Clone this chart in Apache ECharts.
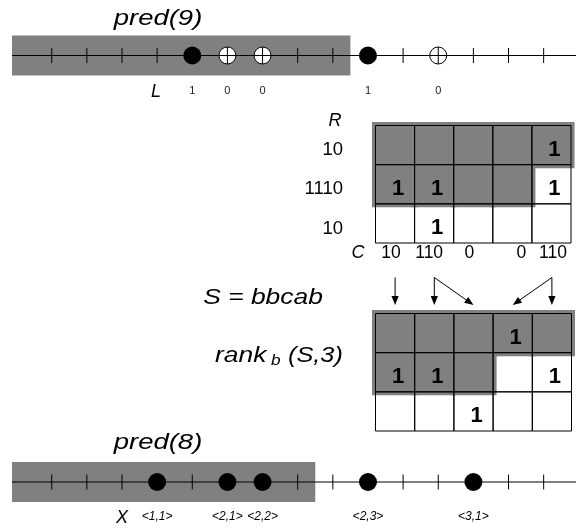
<!DOCTYPE html>
<html><head><meta charset="utf-8">
<script src="https://cdn.jsdelivr.net/npm/echarts@6/dist/echarts.min.js"></script>
<style>html,body{margin:0;padding:0;background:#fff}#c{width:576px;height:529px}</style>
</head><body><div id="c"></div>
<script>
// ---------- data ----------
const lineRange = [-0.13, 15.92];
const topTicks = [1, 2, 3, 4, 8, 9, 11, 13, 14, 15];
const topDots = [5, 10];
const topOpen = [6, 7, 12];
const topBitPos = [5, 6, 7, 10, 12];
const topBits = ['1', '0', '0', '1', '0'];
const topShadeEnd = 9.5;

const botTicks = [1, 2, 3, 5, 8, 9, 11, 12, 14, 15];
const botDots = [4, 6, 7, 10, 13];
const botPairs = ['<1,1>', '<2,1>', '<2,2>', '<2,3>', '<3,1>'];
const botShadeEnd = 8.5;

const colKeys = ['c0', 'c1', 'c2', 'c3', 'c4'];
const rowKeys = ['r0', 'r1', 'r2'];
const m1RowLabels = ['10', '1110', '10'];
const m1ColLabels = ['10', '110', '0', '0', '110'];
const m1Shade = [[1, 1, 1, 1, 1], [1, 1, 1, 1, 0], [0, 0, 0, 0, 0]];
const m1Ones  = [[0, 0, 0, 0, 1], [1, 1, 0, 0, 1], [0, 1, 0, 0, 0]];
const m2Shade = [[1, 1, 1, 1, 1], [1, 1, 1, 0, 0], [0, 0, 0, 0, 0]];
const m2Ones  = [[0, 0, 0, 1, 0], [1, 1, 0, 0, 1], [0, 0, 1, 0, 0]];
const arrowFrom = [0, 1, 1, 4, 4];
const arrowTo   = [0, 1, 2, 4, 3];

// ---------- style ----------
const GRAY = '#808080';
const FONT = '"Liberation Sans", Arial, Helvetica, sans-serif';
const colLabelNudge = [-4, -5, -4, 9, 1.5];   // horizontal typesetting nudges of the column labels (px)

function marksOf(ticks, dots, open) {
  const out = [];
  ticks.forEach(p => out.push([p, 0, 0]));
  dots.forEach(p => out.push([p, 0, 1]));
  (open || []).forEach(p => out.push([p, 0, 2]));
  return out;
}
function shadedCells(mat) {
  const out = [];
  mat.forEach((row, r) => row.forEach((v, c) => { if (v) out.push([c, r]); }));
  return out;
}
function allCells(ones) {
  const out = [];
  ones.forEach((row, r) => row.forEach((v, c) => out.push([c, r, v])));
  return out;
}

function shadeLineItem(params, api) {
  const cs = params.coordSys;
  const end = api.coord([api.value(0), 0]);
  return {
    type: 'group', children: [
      { type: 'rect', shape: { x: cs.x, y: cs.y, width: end[0] - cs.x, height: cs.height }, style: { fill: GRAY } },
      { type: 'line', shape: { x1: cs.x, y1: end[1], x2: cs.x + cs.width, y2: end[1] }, style: { stroke: '#000', lineWidth: 1 } }
    ]
  };
}
function markItem(params, api) {
  const p = api.coord([api.value(0), 0]);
  const kind = api.value(2);
  if (kind === 0) {
    return { type: 'line', shape: { x1: p[0], y1: p[1] - 7.5, x2: p[0], y2: p[1] + 7.5 }, style: { stroke: '#000', lineWidth: 1 } };
  }
  if (kind === 1) {
    return { type: 'circle', shape: { cx: p[0], cy: p[1], r: 9 }, style: { fill: '#000' } };
  }
  return {
    type: 'group', children: [
      { type: 'circle', shape: { cx: p[0], cy: p[1], r: 8.5 }, style: { fill: '#fff', stroke: '#000', lineWidth: 1 } },
      { type: 'line', shape: { x1: p[0], y1: p[1] - 8.5, x2: p[0], y2: p[1] + 8.5 }, style: { stroke: '#000', lineWidth: 1 } },
      { type: 'line', shape: { x1: p[0] - 8.5, y1: p[1], x2: p[0] + 8.5, y2: p[1] }, style: { stroke: '#000', lineWidth: 1 } }
    ]
  };
}
function labelItemFactory(texts, font, color) {
  return function (params, api) {
    const p = api.coord([api.value(0), 0]);
    return { type: 'text', x: p[0], y: p[1] + 35, style: { text: texts[params.dataIndex], font: font, fill: color, align: 'center', verticalAlign: 'middle' } };
  };
}
function shadeCellItem(params, api) {
  const c = api.coord([api.value(0), api.value(1)]);
  const s = api.size([1, 1]);
  const pad = 3.5;
  return { type: 'rect', shape: { x: c[0] - s[0] / 2 - pad, y: c[1] - s[1] / 2 - pad, width: s[0] + 2 * pad, height: s[1] + 2 * pad }, style: { fill: GRAY } };
}
function cellItem(params, api) {
  const c = api.coord([api.value(0), api.value(1)]);
  const s = api.size([1, 1]);
  const children = [{ type: 'rect', shape: { x: c[0] - s[0] / 2, y: c[1] - s[1] / 2, width: s[0], height: s[1] }, style: { fill: 'none', stroke: '#000', lineWidth: 1 } }];
  if (api.value(2)) {
    children.push({ type: 'text', x: c[0] + 3, y: c[1] + 5, style: { text: '1', font: 'bold 22px ' + FONT, fill: '#000', align: 'center', verticalAlign: 'middle' } });
  }
  return { type: 'group', children: children };
}
function rowLabelItem(params, api) {
  const y = api.coord([0, api.value(1)])[1];
  return { type: 'text', x: params.coordSys.x - 32.5, y: y + 5, style: { text: m1RowLabels[params.dataIndex], font: '18.5px ' + FONT, fill: '#000', align: 'right', verticalAlign: 'middle' } };
}
function colLabelItem(params, api) {
  const x = api.coord([api.value(0), 0])[0];
  const cs = params.coordSys;
  return { type: 'text', x: x + colLabelNudge[params.dataIndex], y: cs.y + cs.height + 10, style: { text: m1ColLabels[params.dataIndex], font: '17.5px ' + FONT, fill: '#000', align: 'center', verticalAlign: 'middle' } };
}
function arrowItem(params, api) {
  const top = params.coordSys.y;
  const x1 = api.coord([api.value(0), 0])[0];
  const x2 = api.coord([api.value(2), 0])[0];
  const y1 = top - 36, y2 = top - 8.5;
  const dx = x2 - x1, dy = y2 - y1, len = Math.sqrt(dx * dx + dy * dy);
  const ux = dx / len, uy = dy / len, nx = -uy, ny = ux;
  const L = 9, W = 3.6;
  const bx = x2 - L * ux, by = y2 - L * uy;
  return {
    type: 'group', children: [
      { type: 'line', shape: { x1: x1, y1: y1, x2: bx + 2 * ux, y2: by + 2 * uy }, style: { stroke: '#000', lineWidth: 1 } },
      { type: 'polygon', shape: { points: [[x2, y2], [bx + W * nx, by + W * ny], [bx - W * nx, by - W * ny]] }, style: { fill: '#000' } }
    ]
  };
}

const hiddenVal = (gi, range) => ({ type: 'value', gridIndex: gi, min: range[0], max: range[1], show: false });

const chart = echarts.init(document.getElementById('c'));
chart.setOption({
  animation: false,
  backgroundColor: '#fff',
  grid: [
    { left: 12, top: 35.5, width: 564, height: 40 },
    { left: 375.5, top: 125.5, width: 195.5, height: 117.5 },
    { left: 375.5, top: 313.5, width: 196, height: 117.5 },
    { left: 12, top: 462, width: 564, height: 40 }
  ],
  xAxis: [
    hiddenVal(0, lineRange),
    { type: 'category', gridIndex: 1, data: colKeys, show: false },
    { type: 'category', gridIndex: 2, data: colKeys, show: false },
    hiddenVal(3, lineRange)
  ],
  yAxis: [
    hiddenVal(0, [-1, 1]),
    { type: 'category', gridIndex: 1, data: rowKeys, inverse: true, show: false },
    { type: 'category', gridIndex: 2, data: rowKeys, inverse: true, show: false },
    hiddenVal(3, [-1, 1])
  ],
  series: [
    { type: 'custom', xAxisIndex: 0, yAxisIndex: 0, z: 1, silent: true, data: [[topShadeEnd, 0]], renderItem: shadeLineItem },
    { type: 'custom', xAxisIndex: 0, yAxisIndex: 0, z: 3, silent: true, data: marksOf(topTicks, topDots, topOpen), encode: { x: 0, y: 1 }, renderItem: markItem },
    { type: 'custom', xAxisIndex: 0, yAxisIndex: 0, z: 3, silent: true, data: topBitPos.map(p => [p, 0]), renderItem: labelItemFactory(topBits, '11px ' + FONT, '#222') },

    { type: 'custom', xAxisIndex: 3, yAxisIndex: 3, z: 1, silent: true, data: [[botShadeEnd, 0]], renderItem: shadeLineItem },
    { type: 'custom', xAxisIndex: 3, yAxisIndex: 3, z: 3, silent: true, data: marksOf(botTicks, botDots), encode: { x: 0, y: 1 }, renderItem: markItem },
    { type: 'custom', xAxisIndex: 3, yAxisIndex: 3, z: 3, silent: true, data: botDots.map(p => [p, 0]), renderItem: labelItemFactory(botPairs, 'italic 12px ' + FONT, '#000') },

    { type: 'custom', xAxisIndex: 1, yAxisIndex: 1, z: 1, silent: true, data: shadedCells(m1Shade), renderItem: shadeCellItem },
    { type: 'custom', xAxisIndex: 1, yAxisIndex: 1, z: 3, silent: true, data: allCells(m1Ones), encode: { x: 0, y: 1 }, renderItem: cellItem },
    { type: 'custom', xAxisIndex: 1, yAxisIndex: 1, z: 3, silent: true, data: rowKeys.map((k, i) => [0, i]), renderItem: rowLabelItem },
    { type: 'custom', xAxisIndex: 1, yAxisIndex: 1, z: 3, silent: true, data: colKeys.map((k, i) => [i, 0]), renderItem: colLabelItem },

    { type: 'custom', xAxisIndex: 2, yAxisIndex: 2, z: 1, silent: true, data: shadedCells(m2Shade), renderItem: shadeCellItem },
    { type: 'custom', xAxisIndex: 2, yAxisIndex: 2, z: 3, silent: true, data: allCells(m2Ones), encode: { x: 0, y: 1 }, renderItem: cellItem },
    { type: 'custom', xAxisIndex: 2, yAxisIndex: 2, z: 3, silent: true, data: arrowFrom.map((f, i) => [f, 0, arrowTo[i]]), encode: { x: 0, y: 1 }, renderItem: arrowItem }
  ],
  graphic: [
    { type: 'text', x: 158, y: 19, scaleX: 1.25, style: { text: 'pred(9)', font: 'italic 22px ' + FONT, fill: '#000', align: 'center', verticalAlign: 'middle' } },
    { type: 'text', x: 156, y: 92, style: { text: 'L', font: 'italic 18px ' + FONT, fill: '#000', align: 'center', verticalAlign: 'middle' } },
    { type: 'text', x: 335, y: 121, style: { text: 'R', font: 'italic 18px ' + FONT, fill: '#000', align: 'center', verticalAlign: 'middle' } },
    { type: 'text', x: 358, y: 253, style: { text: 'C', font: 'italic 18px ' + FONT, fill: '#000', align: 'center', verticalAlign: 'middle' } },
    { type: 'text', x: 263, y: 298, scaleX: 1.2, style: { text: 'S = bbcab', font: 'italic 22px ' + FONT, fill: '#000', align: 'center', verticalAlign: 'middle' } },
    { type: 'text', x: 215, y: 356, scaleX: 1.2, style: { text: 'rank', font: 'italic 22px ' + FONT, fill: '#000', align: 'left', verticalAlign: 'middle' } },
    { type: 'text', x: 271, y: 361, scaleX: 1.15, style: { text: 'b', font: 'italic 15px ' + FONT, fill: '#000', align: 'left', verticalAlign: 'middle' } },
    { type: 'text', x: 288, y: 356, scaleX: 1.15, style: { text: '(S,3)', font: 'italic 22px ' + FONT, fill: '#000', align: 'left', verticalAlign: 'middle' } },
    { type: 'text', x: 158, y: 443, scaleX: 1.25, style: { text: 'pred(8)', font: 'italic 22px ' + FONT, fill: '#000', align: 'center', verticalAlign: 'middle' } },
    { type: 'text', x: 122, y: 518, style: { text: 'X', font: 'italic 18px ' + FONT, fill: '#000', align: 'center', verticalAlign: 'middle' } }
  ]
});
</script>
</body></html>
